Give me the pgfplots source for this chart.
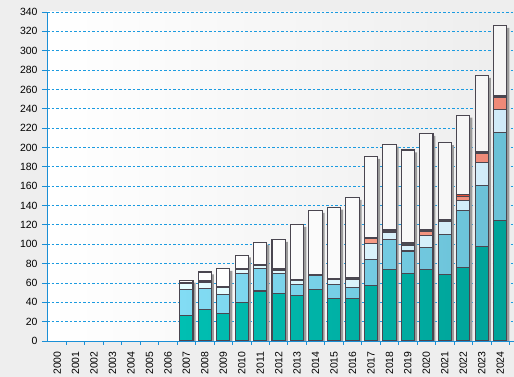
\documentclass[border=0pt]{standalone}
\usepackage{pgfplots}
\pgfplotsset{compat=1.18}
\usepackage{pgfplotstable}
\usepackage{fontspec}
\setmainfont{Liberation Sans}

\definecolor{bgc}{HTML}{EEEEEE}
\definecolor{axc}{HTML}{1A8FD6}
\definecolor{gridc}{HTML}{1C9BE0}
\definecolor{ctealL}{HTML}{00BFB2}
\definecolor{ctealR}{HTML}{00A298}
\definecolor{cblueL}{HTML}{82DCF4}
\definecolor{cblueR}{HTML}{6AC0D6}
\definecolor{ccyanL}{HTML}{E6FEFF}
\definecolor{ccyanR}{HTML}{D0EAF8}
\definecolor{csalmonL}{HTML}{F69C86}
\definecolor{csalmonR}{HTML}{EE8877}
\definecolor{cgray}{HTML}{4B4B52}
\definecolor{credL}{HTML}{E95A40}
\definecolor{credR}{HTML}{DC4530}
\definecolor{bord}{HTML}{4A4650}
\definecolor{shad}{HTML}{9A9A9A}

\pgfplotstableread{
idx teal blue cyan salmon gray red white
7 26 27.5 6 0 1 0 2.2
8 32.7 21.7 6.2 0 1.4 0 9.3
9 28.6 19.6 6.8 0 1.5 0 18.5
10 40 29.9 3.8 0 1.3 0 13.8
11 51.7 23 3.3 0 0.5 0 23.5
12 49.3 20.6 2.8 0 1.7 0 30.6
13 47.2 11.4 4.1 0 1.3 0 56.5
14 53.4 14.1 0 0 1.5 0 66
15 44 14.5 5.2 0 0.5 0 74
16 44 11.4 8.3 0 1.7 0 83
17 57.5 26.9 16.6 4.8 1.6 0 83.4
18 74 31 7 0 2.7 0 88.8
19 70 23 5.8 0 2.6 0 96
20 74 22.4 12.7 4.6 0 1.8 99
21 68.9 41.3 13.4 0 2.4 0 79
22 76 59 10.5 3.5 0 2 82.3
23 97.8 63.1 23.8 8.9 1.7 0 79.2
24 124.6 90.9 23.8 12.4 0.8 1.6 72
}\datatable

\pgfplotsset{
  common/.style={
    at={(47bp,36bp)}, anchor=south west,
    scale only axis, width=467bp, height=329bp,
    xmin=-0.55, xmax=24.75, ymin=0, ymax=340,
  }
}

\begin{document}
\begin{tikzpicture}
\fill[bgc] (0,0) rectangle (514bp,377bp);
\begin{axis}[common,
  axis background/.style={shade, left color=white, right color=black!7},
  axis x line*=bottom, axis y line*=left,
  axis line style={draw=axc, line width=0.8bp},
  ytick={0,20,...,340},
  xtick={0,...,24},
  xticklabels={2000,2001,2002,2003,2004,2005,2006,2007,2008,2009,2010,2011,2012,2013,2014,2015,2016,2017,2018,2019,2020,2021,2022,2023,2024},
  minor xtick={0.5,1.5,...,24.5},
  tick align=outside,
  tick style={draw=axc, line width=0.8bp},
  major tick length=5bp, minor tick length=4bp,
  major x tick style={draw=none},
  ymajorgrids,
  grid style={draw=gridc, line width=0.8bp, dash pattern=on 2.5bp off 2bp},
  tick label style={font=\fontsize{10.5}{12}\selectfont, text=black},
  /pgf/number format/assume math mode=true,
  x tick label style={rotate=90, anchor=east},
  xticklabel shift=2bp, yticklabel shift=1bp,
  ybar, bar width=0.72,
]
\addplot[fill=shad, draw=none, bar shift=2.5bp] table[x=idx, y expr={\thisrow{teal}+\thisrow{blue}+\thisrow{cyan}+\thisrow{salmon}+\thisrow{gray}+\thisrow{red}+\thisrow{white}-2.5}] {\datatable};
\end{axis}
\begin{axis}[common, hide axis, ybar stacked, bar width=0.72,
  every axis plot/.append style={draw=bord, line width=1.1bp}]
\addplot[shade, left color=ctealL, right color=ctealR] table[x=idx, y=teal] {\datatable};
\addplot[shade, left color=cblueL, right color=cblueR] table[x=idx, y=blue] {\datatable};
\addplot[shade, left color=ccyanL, right color=ccyanR] table[x=idx, y=cyan] {\datatable};
\addplot[shade, left color=csalmonL, right color=csalmonR] table[x=idx, y=salmon] {\datatable};
\addplot[fill=cgray] table[x=idx, y=gray] {\datatable};
\addplot[shade, left color=credL, right color=credR] table[x=idx, y=red] {\datatable};
\addplot[shade, left color=white, right color=black!4] table[x=idx, y=white] {\datatable};
\end{axis}
\pgfresetboundingbox
\path (0,0) rectangle (514bp,377bp);
\end{tikzpicture}
\end{document}
